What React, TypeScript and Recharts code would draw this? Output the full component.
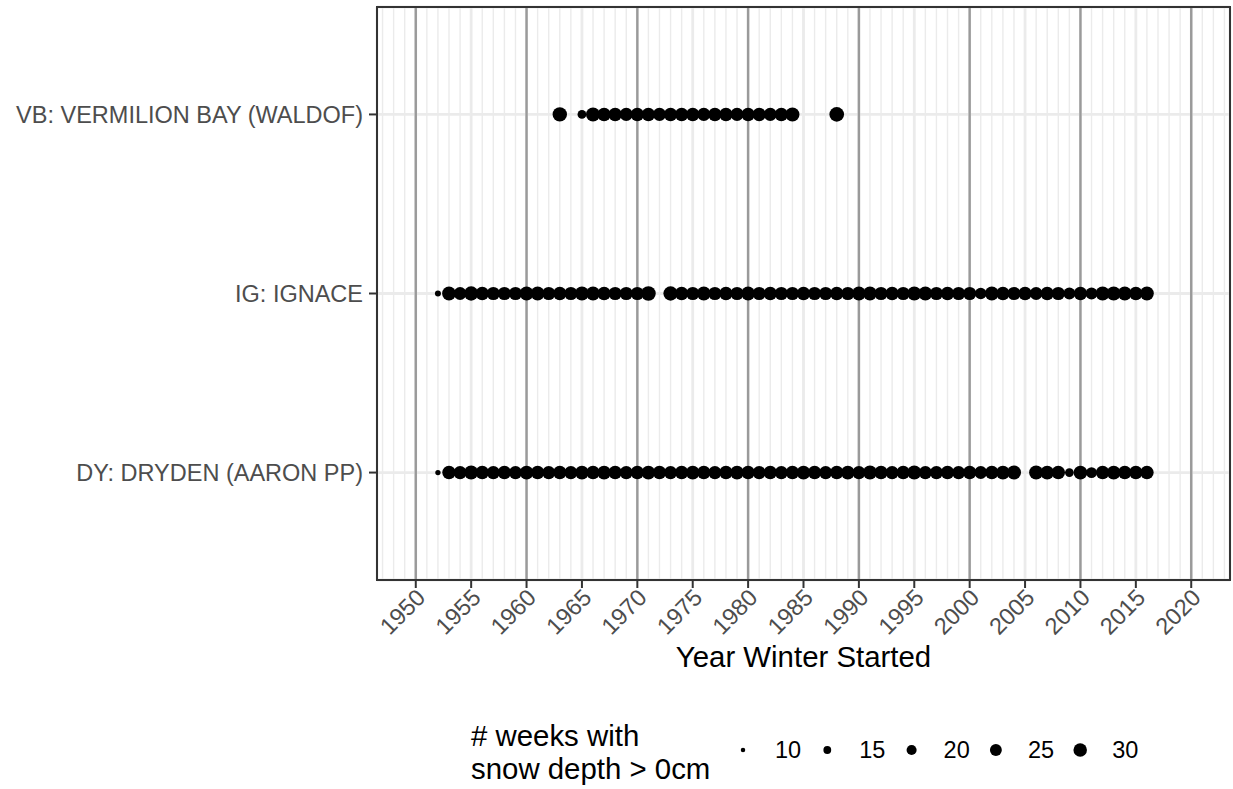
import React from 'react';
import {
  ScatterChart,
  Scatter,
  XAxis,
  YAxis,
  ZAxis,
  CartesianGrid,
  ReferenceLine,
  ReferenceArea,
  Legend,
} from 'recharts';

const FONT = '"Liberation Sans", Arial, Helvetica, sans-serif';

// Stations (y categories, bottom to top)
const stationLabels = ['DY: DRYDEN (AARON PP)', 'IG: IGNACE', 'VB: VERMILION BAY (WALDOF)'];
const stationPositions = [1, 2, 3];

// VB: VERMILION BAY (WALDOF)
const vbYears = [1963, 1965, 1966, 1967, 1968, 1969, 1970, 1971, 1972, 1973, 1974, 1975, 1976, 1977, 1978, 1979, 1980, 1981, 1982, 1983, 1984, 1988];
const vbWeeks = [33, 17, 32, 30, 30, 29, 30, 30, 29, 30, 30, 30, 29, 30, 30, 29, 30, 30, 29, 30, 32, 34];

// IG: IGNACE
const igYears = [
  1952, 1953, 1954, 1955, 1956, 1957, 1958, 1959, 1960, 1961, 1962, 1963, 1964, 1965, 1966, 1967, 1968, 1969, 1970, 1971,
  1973, 1974, 1975, 1976, 1977, 1978, 1979, 1980, 1981, 1982, 1983, 1984, 1985, 1986, 1987, 1988, 1989, 1990, 1991, 1992,
  1993, 1994, 1995, 1996, 1997, 1998, 1999, 2000, 2001, 2002, 2003, 2004, 2005, 2006, 2007, 2008, 2009, 2010, 2011, 2012,
  2013, 2014, 2015, 2016,
];
const igWeeks = [
  12, 31, 28, 33, 30, 29, 29, 29, 31, 31, 29, 30, 29, 32, 31, 30, 29, 29, 29, 34,
  33, 30, 29, 31, 29, 30, 29, 31, 29, 30, 29, 29, 30, 29, 29, 30, 29, 31, 31, 29,
  30, 29, 32, 31, 29, 30, 29, 29, 24, 31, 30, 29, 30, 28, 30, 29, 25, 30, 25, 32,
  32, 31, 30, 31,
];

// DY: DRYDEN (AARON PP)
const dyYears = [
  1952, 1953, 1954, 1955, 1956, 1957, 1958, 1959, 1960, 1961, 1962, 1963, 1964, 1965, 1966, 1967, 1968, 1969, 1970, 1971,
  1972, 1973, 1974, 1975, 1976, 1977, 1978, 1979, 1980, 1981, 1982, 1983, 1984, 1985, 1986, 1987, 1988, 1989, 1990, 1991,
  1992, 1993, 1994, 1995, 1996, 1997, 1998, 1999, 2000, 2001, 2002, 2003, 2004,
  2006, 2007, 2008, 2009, 2010, 2011, 2012, 2013, 2014, 2015, 2016,
];
const dyWeeks = [
  11, 30, 29, 32, 30, 29, 30, 29, 31, 30, 29, 30, 29, 31, 30, 31, 30, 29, 30, 31,
  30, 29, 30, 31, 30, 29, 30, 31, 30, 29, 30, 29, 30, 31, 30, 29, 30, 31, 29, 32,
  30, 29, 30, 32, 29, 29, 30, 29, 30, 28, 30, 31, 32,
  32, 31, 30, 17, 31, 22, 30, 31, 30, 30, 30,
];

// Axis ticks / grid
const xTicks = [1950, 1955, 1960, 1965, 1970, 1975, 1980, 1985, 1990, 1995, 2000, 2005, 2010, 2015, 2020];
const decadeLines = [1950, 1960, 1970, 1980, 1990, 2000, 2010, 2020];
const minorYears = Array.from({ length: 77 }, (_, i) => 1947 + i);
const X_DOMAIN = [1946.5, 2023.5];
const Y_DOMAIN = [0.4, 3.6];

// Size legend
const legendTitle = ['# weeks with', 'snow depth > 0cm'];
const legendValues = [10, 15, 20, 25, 30];
const Z_DOMAIN = [10, 30];
const Z_RANGE = [15.9, 143];

const build = (years: number[], weeks: number[], pos: number) =>
  years.map((y, i) => ({ year: y, pos, weeks: weeks[i] }));

const dyData = build(dyYears, dyWeeks, stationPositions[0]);
const igData = build(igYears, igWeeks, stationPositions[1]);
const vbData = build(vbYears, vbWeeks, stationPositions[2]);

// area-linear size mapping (same as ggplot's scale_size): value -> radius
const radiusFor = (v: number) => {
  const area = Z_RANGE[0] + ((v - Z_DOMAIN[0]) / (Z_DOMAIN[1] - Z_DOMAIN[0])) * (Z_RANGE[1] - Z_RANGE[0]);
  return Math.sqrt(Math.max(area, 0) / Math.PI);
};

const Dot = (props: any) => {
  const { cx, cy, payload } = props;
  const w = payload && typeof payload.weeks === 'number' ? payload.weeks : 20;
  return <circle cx={cx} cy={cy} r={radiusFor(w)} fill="#000000" />;
};

const XTick = (props: any) => {
  const { x, y, payload } = props;
  const ax = x + 11;
  const ay = y + 11;
  return (
    <text
      x={ax}
      y={ay}
      textAnchor="end"
      transform={`rotate(-45, ${ax}, ${ay})`}
      fontSize={23.5}
      fill="#4d4d4d"
      fontFamily={FONT}
    >
      {payload.value}
    </text>
  );
};

const YTick = (props: any) => {
  const { x, y, payload } = props;
  const idx = stationPositions.indexOf(payload.value);
  return (
    <text x={x} y={y} dy="0.355em" textAnchor="end" fontSize={23.5} fill="#4d4d4d" fontFamily={FONT}>
      {idx >= 0 ? stationLabels[idx] : ''}
    </text>
  );
};

const XTitle = (props: any) => {
  const vb = props.viewBox || {};
  const cx = vb.x + vb.width / 2;
  return (
    <text x={cx} y={vb.y + 87} textAnchor="middle" fontSize={29.4} fill="#000" fontFamily={FONT}>
      Year Winter Started
    </text>
  );
};

const SizeLegend = () => (
  <svg
    width={1233}
    height={789}
    style={{ position: 'absolute', left: 0, top: 0, overflow: 'visible', pointerEvents: 'none' }}
  >
    <text x={471} y={746} fontSize={29.4} fill="#000" fontFamily={FONT}>
      {legendTitle[0]}
    </text>
    <text x={471} y={779} fontSize={29.4} fill="#000" fontFamily={FONT}>
      {legendTitle[1]}
    </text>
    {legendValues.map((v, i) => {
      const cx = 743 + i * 84.3;
      return (
        <g key={v}>
          <circle cx={cx} cy={750} r={radiusFor(v)} fill="#000" />
          <text x={cx + 32} y={750} dy="0.355em" fontSize={23.5} fill="#000" fontFamily={FONT}>
            {v}
          </text>
        </g>
      );
    })}
  </svg>
);

export default function App() {
  return (
    <div style={{ position: 'absolute', left: 0, top: 0, width: 1233, height: 789, background: '#fff', fontFamily: FONT }}>
      <ScatterChart width={1233} height={789} margin={{ top: 7, right: 3, bottom: 0, left: 0 }}>
        <CartesianGrid stroke="#ebebeb" strokeWidth={2.8} />
        {minorYears.map((yr) => (
          <ReferenceLine key={`m${yr}`} x={yr} stroke="#ebebeb" strokeWidth={1.4} />
        ))}
        {decadeLines.map((yr) => (
          <ReferenceLine key={`d${yr}`} x={yr} stroke="#9a9a9a" strokeWidth={2.4} />
        ))}
        <XAxis
          type="number"
          dataKey="year"
          domain={X_DOMAIN}
          ticks={xTicks}
          interval={0}
          allowDataOverflow
          height={209}
          tickSize={8}
          tickMargin={0}
          axisLine={false}
          tickLine={{ stroke: '#333333', strokeWidth: 2 }}
          tick={<XTick />}
          label={<XTitle />}
        />
        <YAxis
          type="number"
          dataKey="pos"
          domain={Y_DOMAIN}
          ticks={stationPositions}
          interval={0}
          allowDataOverflow
          width={377}
          tickSize={8}
          tickMargin={6}
          axisLine={false}
          tickLine={{ stroke: '#333333', strokeWidth: 2 }}
          tick={<YTick />}
        />
        <ZAxis type="number" dataKey="weeks" domain={Z_DOMAIN} range={Z_RANGE} />
        <Scatter data={dyData} fill="#000000" shape={<Dot />} isAnimationActive={false} />
        <Scatter data={igData} fill="#000000" shape={<Dot />} isAnimationActive={false} />
        <Scatter data={vbData} fill="#000000" shape={<Dot />} isAnimationActive={false} />
        <ReferenceArea
          x1={X_DOMAIN[0]}
          x2={X_DOMAIN[1]}
          y1={Y_DOMAIN[0]}
          y2={Y_DOMAIN[1]}
          fill="none"
          fillOpacity={0}
          stroke="#333333"
          strokeWidth={2}
          {...({ zIndex: 1500 } as any)}
        />
        <Legend
          content={<SizeLegend />}
          wrapperStyle={{ position: 'absolute', left: 0, top: 0, width: 0, height: 0, overflow: 'visible' }}
        />
      </ScatterChart>
    </div>
  );
}
